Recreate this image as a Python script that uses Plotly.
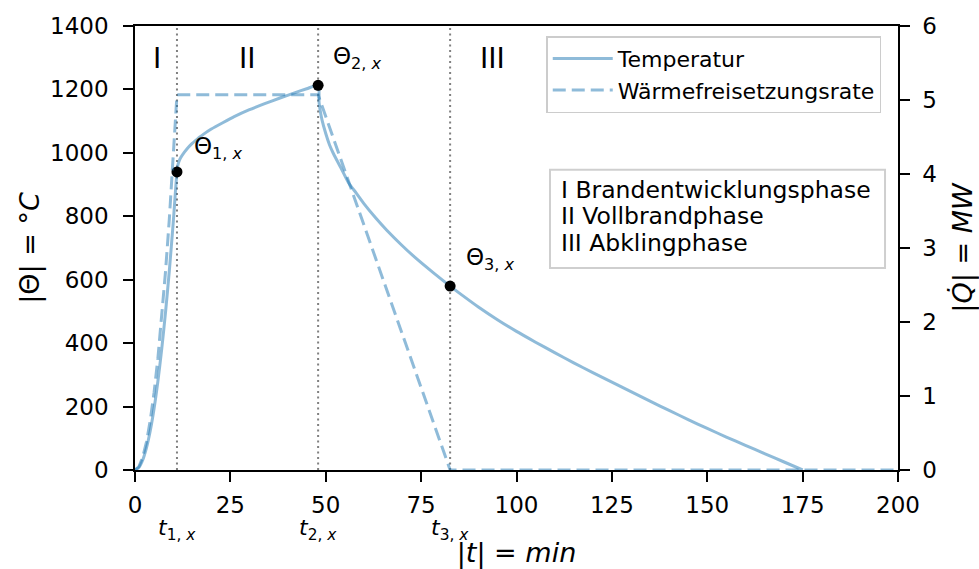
import plotly.graph_objects as go

# ---- data ----
temp_t = [0, 1, 2, 3, 4, 5, 6, 7, 8, 9, 10, 11,
          11.25, 11.5, 12, 13, 14, 15, 16, 17, 18, 20, 23, 26, 30, 34, 38, 42, 45, 48,
          48.25, 48.5, 49, 50, 51, 52, 54, 56, 58, 60, 63, 66, 70, 74, 78, 82.6,
          86, 90, 95, 100, 105, 110, 115, 120, 125, 130, 135, 140, 145, 150, 155, 160, 165, 170, 175]
temp_v = [0, 8, 31, 70, 124, 194, 280, 381, 497, 629, 777, 940,
          962, 972, 985, 1003, 1018, 1030, 1040, 1050, 1059, 1075, 1095, 1114, 1136, 1155, 1173, 1190, 1202, 1213,
          1159, 1137, 1105, 1061, 1025, 998, 952, 905, 873, 840, 796, 756, 708, 664, 624, 580,
          549, 514, 474, 437, 403, 370, 338, 307, 277, 247, 217, 188, 159, 131, 104, 78, 52, 26, 0]

hrr_t = [0, 1, 2, 3, 4, 5, 6, 7, 8, 9, 10, 11, 48, 82.6, 200]
hrr_v = [0, 0.042, 0.168, 0.377, 0.670, 1.048, 1.508, 2.053, 2.681, 3.394, 4.190, 5.07, 5.07, 0, 0]

phase_t = [11, 48, 82.6]           # t1,x  t2,x  t3,x
phase_theta = [940, 1213, 580]     # Θ1,x Θ2,x Θ3,x
phase_roman = ["I", "II", "III"]
phase_roman_t = [5.8, 29.6, 93.8]
theta_labels = ["Θ<sub>1, <i>x</i></sub>", "Θ<sub>2, <i>x</i></sub>", "Θ<sub>3, <i>x</i></sub>"]
theta_label_pos = [(15.0, 1015), (51.4, 1299), (86.2, 666)]
t_labels = ["<i>t</i><sub>1, <i>x</i></sub>", "<i>t</i><sub>2, <i>x</i></sub>", "<i>t</i><sub>3, <i>x</i></sub>"]

x_ticks = [0, 25, 50, 75, 100, 125, 150, 175, 200]
y_ticks = [0, 200, 400, 600, 800, 1000, 1200, 1400]
y2_ticks = [0, 1, 2, 3, 4, 5, 6]

phase_lines = ["I Brandentwicklungsphase", "II Vollbrandphase", "III Abklingphase"]
phase_line_y = [0.631, 0.572, 0.512]

BLUE = "rgba(31,119,180,0.5)"
FONT = "DejaVu Sans"

fig = go.Figure()

for t in phase_t:
    fig.add_trace(go.Scatter(x=[t, t], y=[0, 1400], mode="lines",
                             line=dict(color="gray", width=2, dash="2px,3.5px"),
                             showlegend=False, hoverinfo="skip"))

fig.add_trace(go.Scatter(x=temp_t, y=temp_v, mode="lines", name="Temperatur",
                         line=dict(color=BLUE, width=3, shape="spline", smoothing=0.6)))
fig.add_trace(go.Scatter(x=hrr_t, y=hrr_v, mode="lines", name="Wärmefreisetzungsrate",
                         line=dict(color=BLUE, width=3, dash="13px,6px"), yaxis="y2"))

fig.add_trace(go.Scatter(x=phase_t, y=phase_theta, mode="markers",
                         marker=dict(color="black", size=11), showlegend=False))

for r, t in zip(phase_roman, phase_roman_t):
    fig.add_annotation(x=t, y=1299, text=r, showarrow=False, xanchor="center", yanchor="middle",
                       font=dict(size=28, color="black", family=FONT))

for lab, (tx, ty) in zip(theta_labels, theta_label_pos):
    fig.add_annotation(x=tx, y=ty, text=lab, showarrow=False, xanchor="left", yanchor="middle",
                       font=dict(size=23, color="black", family=FONT))

for lab, t in zip(t_labels, phase_t):
    fig.add_annotation(x=t, xref="x", y=-0.133, yref="paper", text=lab, showarrow=False,
                       xanchor="center", yanchor="middle",
                       font=dict(size=22, color="black", family=FONT))

# phase description box
fig.add_shape(type="rect", xref="paper", yref="paper", x0=0.5439, x1=0.983, y0=0.455, y1=0.676,
              line=dict(color="#cfcfcf", width=2), fillcolor="white", layer="above")
for txt, yy in zip(phase_lines, phase_line_y):
    fig.add_annotation(x=0.556, y=yy, xref="paper", yref="paper", text=txt, showarrow=False,
                       xanchor="left", yanchor="middle", align="left",
                       font=dict(size=23.5, color="black", family=FONT))

axis_common = dict(showline=True, linecolor="black", linewidth=1.5, ticks="outside",
                   ticklen=10, tickwidth=1.5, tickcolor="black", showgrid=False, zeroline=False,
                   automargin=False,
                   tickfont=dict(size=23, color="black", family=FONT))

fig.update_layout(
    width=979, height=569,
    margin=dict(l=135, r=81, t=26, b=99),
    paper_bgcolor="white", plot_bgcolor="white",
    font=dict(family=FONT, color="black"),
    showlegend=True,
    legend=dict(x=0.539, y=0.977, xanchor="left", yanchor="top", itemwidth=60,
                bgcolor="rgba(255,255,255,0.8)", bordercolor="#cccccc", borderwidth=1.5,
                font=dict(size=22, color="black", family=FONT)),
    xaxis=dict(range=[0, 200], tickvals=x_ticks, mirror=True, ticklabelstandoff=4,
               title=dict(text="|<i>t</i>| = <i>min</i>", font=dict(size=27), standoff=35),
               **axis_common),
    yaxis=dict(range=[0, 1400], tickvals=y_ticks, ticklabelstandoff=10,
               title=dict(text="|Θ| = °<i>C</i>", font=dict(size=27), standoff=3),
               **axis_common),
    yaxis2=dict(range=[0, 6], tickvals=y2_ticks, overlaying="y", side="right", ticklabelstandoff=8,
                title=dict(text="|<i>Q̇</i>| = <i>MW</i>", font=dict(size=27), standoff=18),
                **axis_common),
)

fig.write_html("out.html")
